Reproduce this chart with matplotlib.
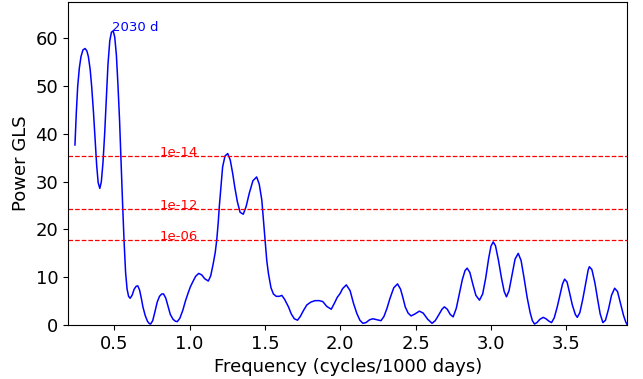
import numpy as np
import matplotlib
matplotlib.use("Agg")
import matplotlib.pyplot as plt

# GLS periodogram, frequency in cycles per 1000 days
freq = [0.239, 0.248, 0.257, 0.268, 0.279, 0.292, 0.306, 0.318, 0.328, 0.340,
        0.350, 0.362, 0.372, 0.383, 0.393, 0.404, 0.414, 0.425, 0.436, 0.447,
        0.458, 0.470, 0.481, 0.4926, 0.503, 0.514, 0.524, 0.535, 0.545, 0.555,
        0.565, 0.575, 0.585, 0.595, 0.605, 0.618, 0.632, 0.645, 0.656, 0.668,
        0.680, 0.690, 0.705, 0.720, 0.732, 0.741, 0.755, 0.770, 0.785, 0.800,
        0.815, 0.827, 0.842, 0.857, 0.872, 0.890, 0.905, 0.918, 0.935, 0.955,
        0.972, 0.989, 1.005, 1.022, 1.040, 1.060, 1.080, 1.100, 1.124, 1.140,
        1.157, 1.170, 1.180, 1.190, 1.197, 1.208, 1.219, 1.235, 1.253, 1.270,
        1.286, 1.300, 1.317, 1.335, 1.356, 1.375, 1.396, 1.420, 1.445, 1.462,
        1.479, 1.490, 1.501, 1.512, 1.523, 1.540, 1.556, 1.575, 1.595, 1.612,
        1.630, 1.645, 1.656, 1.675, 1.695, 1.716, 1.735, 1.755, 1.778, 1.805,
        1.833, 1.860, 1.884, 1.910, 1.940, 1.960, 1.980, 1.999, 2.015, 2.040,
        2.065, 2.088, 2.110, 2.130, 2.150, 2.170, 2.195, 2.217, 2.245, 2.270,
        2.290, 2.310, 2.330, 2.355, 2.380, 2.400, 2.415, 2.431, 2.450, 2.470,
        2.495, 2.525, 2.550, 2.580, 2.609, 2.630, 2.655, 2.675, 2.691, 2.710,
        2.730, 2.749, 2.770, 2.790, 2.810, 2.828, 2.842, 2.860, 2.880, 2.900,
        2.924, 2.945, 2.965, 2.985, 3.000, 3.015, 3.030, 3.050, 3.070, 3.088,
        3.103, 3.120, 3.140, 3.160, 3.181, 3.200, 3.220, 3.240, 3.260, 3.275,
        3.289, 3.305, 3.325, 3.347, 3.365, 3.385, 3.402, 3.420, 3.440, 3.460,
        3.475, 3.489, 3.505, 3.520, 3.540, 3.560, 3.573, 3.590, 3.610, 3.630,
        3.645, 3.653, 3.670, 3.690, 3.710, 3.725, 3.743, 3.760, 3.780, 3.800,
        3.821, 3.840, 3.860, 3.880, 3.895, 3.905]
power = [37.7, 44.5, 49.9, 53.8, 56.2, 57.6, 57.9, 57.4, 56.2, 53.5,
         49.9, 44.5, 39.4, 33.5, 29.8, 28.6, 30.0, 34.0, 40.0, 47.5,
         54.5, 59.5, 61.3, 61.6, 60.3, 56.5, 50.5, 42.9, 34.0, 25.5,
         17.5, 11.0, 7.5, 6.0, 5.6, 6.2, 7.5, 8.1, 8.2, 7.3,
         5.5, 3.8, 2.0, 0.8, 0.3, 0.2, 0.9, 2.8, 4.8, 6.0,
         6.5, 6.5, 5.6, 3.9, 2.2, 1.2, 0.8, 0.7, 1.4, 3.1,
         5.0, 6.6, 8.0, 9.1, 10.2, 10.8, 10.5, 9.7, 9.2, 10.3,
         12.9, 15.2, 17.8, 21.5, 24.8, 29.0, 33.1, 35.4, 35.9, 34.5,
         31.7, 28.8, 25.8, 23.6, 23.2, 24.8, 27.6, 30.2, 31.0, 29.5,
         26.2, 22.0, 17.8, 13.5, 10.8, 7.8, 6.5, 6.0, 6.0, 6.2,
         5.4, 4.5, 3.8, 2.3, 1.3, 1.0, 1.8, 3.0, 4.2, 4.8,
         5.1, 5.1, 4.9, 3.9, 3.3, 4.5, 5.8, 6.6, 7.6, 8.4,
         7.2, 4.5, 2.4, 1.0, 0.35, 0.5, 1.1, 1.3, 1.1, 0.9,
         1.8, 3.5, 5.6, 7.8, 8.6, 7.5, 5.8, 3.8, 2.5, 1.9,
         2.3, 2.9, 2.5, 1.2, 0.35, 0.9, 2.2, 3.3, 3.8, 3.3,
         2.2, 1.7, 3.5, 6.5, 9.5, 11.4, 11.9, 11.0, 8.5, 6.2,
         5.2, 6.5, 9.8, 14.0, 16.5, 17.4, 16.6, 13.5, 9.8, 7.0,
         5.9, 7.2, 10.5, 13.8, 15.0, 13.5, 9.8, 5.8, 2.6, 0.9,
         0.2, 0.5, 1.2, 1.6, 1.3, 0.8, 0.5, 1.5, 3.8, 6.5,
         8.6, 9.6, 9.0, 7.0, 4.2, 2.2, 1.6, 2.6, 5.5, 9.0,
         11.5, 12.2, 11.6, 8.8, 5.0, 2.3, 0.5, 1.0, 3.3, 6.2,
         7.7, 7.0, 4.5, 2.0, 0.6, 0.0]

# false alarm probability levels
fap_labels = ["1e-14", "1e-12", "1e-06"]
fap_power = [35.3, 24.2, 17.8]

best_period = 2030  # days

fig = plt.figure(figsize=(6.43, 3.79), dpi=100)
ax = fig.add_axes([0.1058, 0.1425, 0.8698, 0.853])

ax.plot(freq, power, color="b", lw=1.1)

for lab, p in zip(fap_labels, fap_power):
    ax.axhline(p, color="r", ls="--", lw=0.9)
    ax.text(0.803, p, lab, color="r", fontsize=9.5, va="baseline")

pk = int(np.argmax(power))
ax.text(freq[pk] - 0.008, power[pk], "%d d" % best_period, color="b", fontsize=9.5)

ax.set_xlim(0.193, 3.905)
ax.set_ylim(0, 67.7)
ax.set_xlabel("Frequency (cycles/1000 days)", fontsize=13)
ax.set_ylabel("Power GLS", fontsize=13)
ax.tick_params(labelsize=13)

fig.savefig("out.png", dpi=100)
